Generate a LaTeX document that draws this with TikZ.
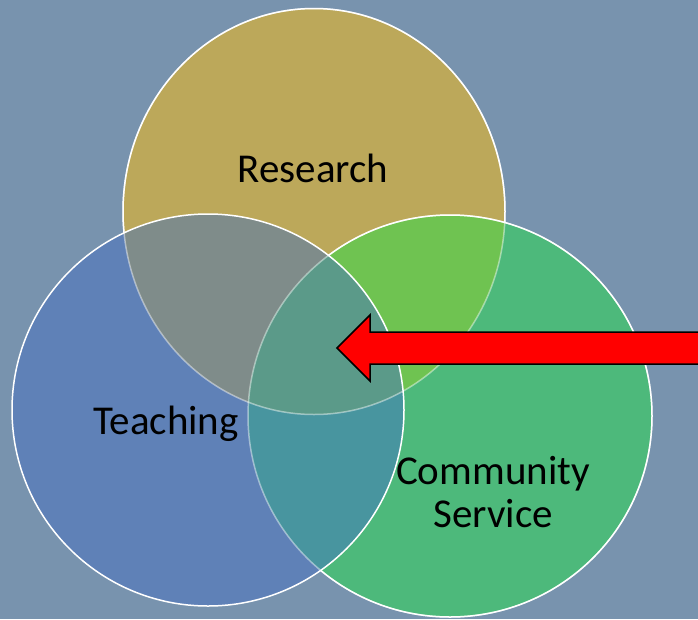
\documentclass[tikz,border=0pt]{standalone}
\usepackage{fontspec}
\setmainfont{Carlito}
\definecolor{bg}{HTML}{7893AE}
\definecolor{cR}{HTML}{BCA85A}
\definecolor{cT}{HTML}{5F81B7}
\definecolor{cC}{HTML}{4DB97B}
\definecolor{cRT}{HTML}{7F8C8A}
\definecolor{cRC}{HTML}{6FC351}
\definecolor{cTC}{HTML}{48959F}
\definecolor{cRTC}{HTML}{5B9A89}
\def\pR{(314,211.5) ellipse [x radius=191pt, y radius=203pt]}
\def\pT{(208,410) ellipse [x radius=196pt, y radius=196pt]}
\def\pC{(450,416) ellipse [x radius=202pt, y radius=201pt]}
\def\pBig{(-20,-20) rectangle (720,640)}
\begin{document}
\begin{tikzpicture}[x=1pt,y=-1pt,
  lbl/.style={font=\fontsize{41pt}{46pt}\selectfont, text=black, inner sep=0pt, anchor=base},
  rim/.style={draw=white, line width=1.5pt},
  faintrim/.style={draw=white, draw opacity=0.45, line width=1.5pt}]
\useasboundingbox (0,0) rectangle (698,619);
\fill[bg] (0,0) rectangle (698,619);
% base fills
\fill[cR] \pR;
\fill[cC] \pC;
\fill[cT] \pT;
% overlaps
\begin{scope}
  \clip \pR;
  \fill[cRT] \pT;
  \fill[cRC] \pC;
\end{scope}
\begin{scope}
  \clip \pT;
  \fill[cTC] \pC;
  \clip \pR;
  \fill[cRTC] \pC;
\end{scope}
% faint (covered) rims
\path[faintrim] \pR;
\path[faintrim] \pC;
% full rims where not covered
\begin{scope}[even odd rule]
  \clip \pBig \pC;
  \clip \pBig \pT;
  \path[rim] \pR;
\end{scope}
\begin{scope}[even odd rule]
  \clip \pBig \pT;
  \path[rim] \pC;
\end{scope}
\path[rim] \pT;
% red block arrow
\draw[fill=red, draw=black, line width=1.5pt, line join=miter]
  (337,348) -- (370,315) -- (370,332) -- (710,332) -- (710,364)
  -- (370,364) -- (370,381) -- cycle;
% labels
\node[lbl] (research) at (313,182) {Research};
\node[lbl] (teaching) at (166,434) {Teaching};
\node[lbl] (community) at (493,484) {Community};
\node[lbl] (service) at (493,527) {Service};
\end{tikzpicture}
\end{document}
